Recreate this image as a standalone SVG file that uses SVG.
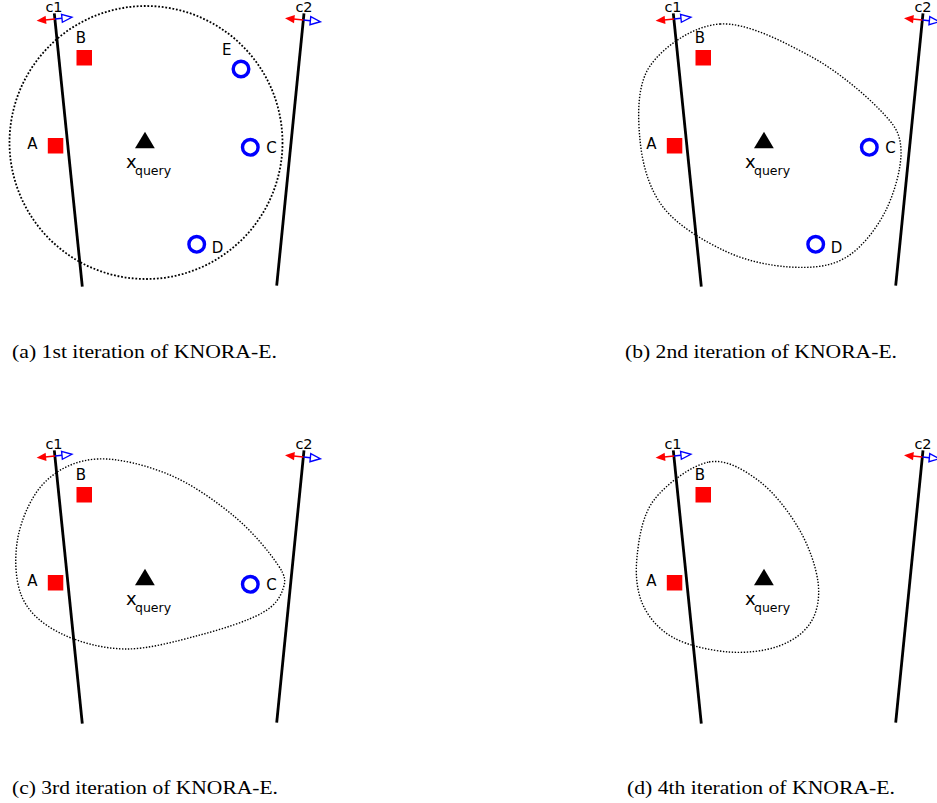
<svg xmlns="http://www.w3.org/2000/svg" xmlns:xlink="http://www.w3.org/1999/xlink" width="937" height="803" viewBox="0 0 937 803">
<style>
.bg{fill:#fff}
.clf{stroke:#000;stroke-width:2.8;fill:none}
.region{fill:none;stroke:#000;stroke-width:1.8;stroke-dasharray:1.8 1.8}
.region2{fill:none;stroke:#000;stroke-width:1.4;stroke-dasharray:1.4 1.6}
.sq{fill:#ff0000}
.ring{fill:none;stroke:#0000ff;stroke-width:3.4}
.tri{fill:#000}
.lbl{font-family:"DejaVu Sans",sans-serif;font-size:15px;fill:#000;text-anchor:middle}
.clbl{font-family:"DejaVu Sans",sans-serif;font-size:14.5px;fill:#000;text-anchor:middle}
.xq{font-family:"DejaVu Sans",sans-serif;font-size:18px;fill:#000}
.sub{font-size:12.5px}
.cap{font-family:"Liberation Serif","Times New Roman",serif;font-size:19.5px;fill:#000;text-anchor:middle}
.red{stroke:#ff0000;stroke-width:1.6;fill:none}
.redh{fill:#ff0000}
.blue{stroke:#0000ff;stroke-width:1.6;fill:none}
.blueh{fill:#fff;stroke:#0000ff;stroke-width:1.4}
</style>
<defs>
<g id="dir">
<line class="red" x1="0" y1="0" x2="-10" y2="0"/>
<polygon class="redh" points="-18.5,0 -9,-4.2 -9,4.2"/>
<line class="blue" x1="0" y1="0" x2="7" y2="0"/>
<polygon class="blueh" points="7,-4 17,0 7,4"/>
</g>
</defs>
<rect class="bg" x="0" y="0" width="937" height="803"/>

<!-- Panel (a) -->
<g id="panel-a">
<g id="a-region"><circle class="region" cx="146" cy="142.5" r="136.5"/></g>
<g id="a-connectors">
<g id="a-c1"><line class="clf" x1="54.3" y1="13.3" x2="82.3" y2="286.7"/><use xlink:href="#dir" href="#dir" transform="translate(55,19) rotate(-5.8)"/><text class="clbl" x="54" y="11.5">c1</text></g>
<g id="a-c2"><line class="clf" x1="304" y1="13.3" x2="276.7" y2="285.7"/><use xlink:href="#dir" href="#dir" transform="translate(303.4,20) rotate(5.7)"/><text class="clbl" x="304" y="11.5">c2</text></g>
</g>
<g id="a-B"><rect class="sq" x="76.5" y="50" width="15.5" height="15.5"/><text class="lbl" x="81" y="43">B</text></g>
<g id="a-A"><rect class="sq" x="47.8" y="138" width="15.5" height="15.5"/><text class="lbl" x="32.5" y="148.5">A</text></g>
<g id="a-E"><circle class="ring" cx="241" cy="69" r="7.8"/><text class="lbl" x="226.7" y="54.5">E</text></g>
<g id="a-C"><circle class="ring" cx="250.3" cy="147.3" r="7.8"/><text class="lbl" x="271.5" y="153">C</text></g>
<g id="a-D"><circle class="ring" cx="196.7" cy="244.3" r="7.8"/><text class="lbl" x="217.5" y="253">D</text></g>
<g id="a-query"><polygon class="tri" points="145,131.7 135,148.3 154.8,148.3"/><text class="xq" x="126" y="168">x<tspan class="sub" x="135" y="175">query</tspan></text></g>
<text id="a-caption" class="cap" x="144.5" y="358" textLength="265" lengthAdjust="spacingAndGlyphs">(a) 1st iteration of KNORA-E.</text>
</g>

<!-- Panel (b) -->
<g id="panel-b" transform="translate(619,0)">
<g id="b-region"><path class="region2" d="M101,24 C127.7,22.3 164.3,41.7 191,56 C217.7,70.3 245.8,94.3 261,110 C276.2,125.7 281.2,133 282,150 C282.8,167 275.3,194 266,212 C256.7,230 241.8,248.8 226,258 C210.2,267.2 191,268.2 171,267 C151,265.8 127.2,261 106,251 C84.8,241 58.2,225.5 44,207 C29.8,188.5 23.2,163.5 21,140 C18.8,116.5 17.7,85.3 31,66 C44.3,46.7 74.3,25.7 101,24 Z"/></g>
<g id="b-connectors">
<g id="b-c1"><line class="clf" x1="54.3" y1="13.3" x2="82.3" y2="286.7"/><use xlink:href="#dir" href="#dir" transform="translate(55,19) rotate(-5.8)"/><text class="clbl" x="54" y="11.5">c1</text></g>
<g id="b-c2"><line class="clf" x1="304" y1="13.3" x2="276.7" y2="285.7"/><use xlink:href="#dir" href="#dir" transform="translate(303.4,20) rotate(5.7)"/><text class="clbl" x="304" y="11.5">c2</text></g>
</g>
<g id="b-B"><rect class="sq" x="76.5" y="50" width="15.5" height="15.5"/><text class="lbl" x="81" y="43">B</text></g>
<g id="b-A"><rect class="sq" x="47.8" y="138" width="15.5" height="15.5"/><text class="lbl" x="32.5" y="148.5">A</text></g>
<g id="b-C"><circle class="ring" cx="250.3" cy="147.3" r="7.8"/><text class="lbl" x="271.5" y="153">C</text></g>
<g id="b-D"><circle class="ring" cx="196.7" cy="244.3" r="7.8"/><text class="lbl" x="217.5" y="253">D</text></g>
<g id="b-query"><polygon class="tri" points="145,131.7 135,148.3 154.8,148.3"/><text class="xq" x="126" y="168">x<tspan class="sub" x="135" y="175">query</tspan></text></g>
<text id="b-caption" class="cap" x="142" y="358" textLength="272" lengthAdjust="spacingAndGlyphs">(b) 2nd iteration of KNORA-E.</text>
</g>

<!-- Panel (c) -->
<g id="panel-c" transform="translate(0,437)">
<g id="c-region"><path class="region2" d="M97,22 C117.8,20.8 147,28.3 170,38 C193,47.7 217,65 235,80 C253,95 270,116 278,128 C286,140 285.7,144 283,152 C280.3,160 275.8,168.3 262,176 C248.2,183.7 222.8,192 200,198 C177.2,204 148.3,212.3 125,212 C101.7,211.7 77.2,204.7 60,196 C42.8,187.3 29,176 22,160 C15,144 14.2,119.2 18,100 C21.8,80.8 31.8,58 45,45 C58.2,32 76.2,23.2 97,22 Z"/></g>
<g id="c-connectors">
<g id="c-c1"><line class="clf" x1="54.3" y1="13.3" x2="82.3" y2="286.7"/><use xlink:href="#dir" href="#dir" transform="translate(55,19) rotate(-5.8)"/><text class="clbl" x="54" y="11.5">c1</text></g>
<g id="c-c2"><line class="clf" x1="304" y1="13.3" x2="276.7" y2="285.7"/><use xlink:href="#dir" href="#dir" transform="translate(303.4,20) rotate(5.7)"/><text class="clbl" x="304" y="11.5">c2</text></g>
</g>
<g id="c-B"><rect class="sq" x="76.5" y="50" width="15.5" height="15.5"/><text class="lbl" x="81" y="43">B</text></g>
<g id="c-A"><rect class="sq" x="47.8" y="138" width="15.5" height="15.5"/><text class="lbl" x="32.5" y="148.5">A</text></g>
<g id="c-C"><circle class="ring" cx="250.3" cy="147.3" r="7.8"/><text class="lbl" x="271.5" y="153">C</text></g>
<g id="c-query"><polygon class="tri" points="145,131.7 135,148.3 154.8,148.3"/><text class="xq" x="126" y="168">x<tspan class="sub" x="135" y="175">query</tspan></text></g>
<text id="c-caption" class="cap" x="145" y="357" textLength="266" lengthAdjust="spacingAndGlyphs">(c) 3rd iteration of KNORA-E.</text>
</g>

<!-- Panel (d) -->
<g id="panel-d" transform="translate(619,437)">
<g id="d-region"><path class="region2" d="M90,25 C107.5,21.8 125,32.8 140,44 C155,55.2 170.2,75.2 180,92 C189.8,108.8 197,129.5 199,145 C201,160.5 198.5,174.3 192,185 C185.5,195.7 173.7,204 160,209 C146.3,214 127.5,216.3 110,215 C92.5,213.7 69.3,208.8 55,201 C40.7,193.2 30.2,181.5 24,168 C17.8,154.5 16.2,137.5 18,120 C19.8,102.5 23,78.8 35,63 C47,47.2 72.5,28.2 90,25 Z"/></g>
<g id="d-connectors">
<g id="d-c1"><line class="clf" x1="54.3" y1="13.3" x2="82.3" y2="286.7"/><use xlink:href="#dir" href="#dir" transform="translate(55,19) rotate(-5.8)"/><text class="clbl" x="54" y="11.5">c1</text></g>
<g id="d-c2"><line class="clf" x1="304" y1="13.3" x2="276.7" y2="285.7"/><use xlink:href="#dir" href="#dir" transform="translate(303.4,20) rotate(5.7)"/><text class="clbl" x="304" y="11.5">c2</text></g>
</g>
<g id="d-B"><rect class="sq" x="76.5" y="50" width="15.5" height="15.5"/><text class="lbl" x="81" y="43">B</text></g>
<g id="d-A"><rect class="sq" x="47.8" y="138" width="15.5" height="15.5"/><text class="lbl" x="32.5" y="148.5">A</text></g>
<g id="d-query"><polygon class="tri" points="145,131.7 135,148.3 154.8,148.3"/><text class="xq" x="126" y="168">x<tspan class="sub" x="135" y="175">query</tspan></text></g>
<text id="d-caption" class="cap" x="142" y="357" textLength="268" lengthAdjust="spacingAndGlyphs">(d) 4th iteration of KNORA-E.</text>
</g>
</svg>
